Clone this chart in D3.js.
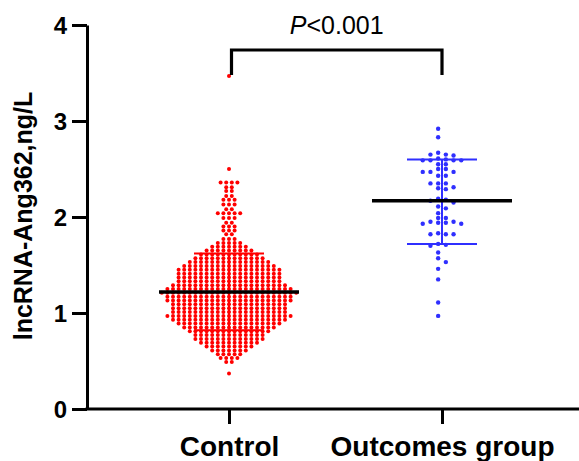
<!DOCTYPE html>
<html>
<head>
<meta charset="utf-8">
<script src="https://cdn.jsdelivr.net/npm/d3@7"></script>
<style>
  html, body { margin: 0; padding: 0; background: #fff; }
  svg { display: block; }
  text { font-family: "Liberation Sans", Arial, Helvetica, sans-serif; }
</style>
</head>
<body>
<svg id="chart" width="579" height="461"></svg>
<script>
// ---------------- data ----------------
const groups = ["Control", "Outcomes group"];
const yTicks = [0, 1, 2, 3, 4];
const yTitle = "lncRNA-Ang362,ng/L";

// Control group: dots are stacked in rows (value of row, number of dots in row)
const controlRowValues = [
  0.37, 0.49, 0.53, 0.57, 0.61, 0.65, 0.69, 0.73, 0.77, 0.81, 0.85, 0.89, 0.93, 0.97,
  1.01, 1.05, 1.09, 1.13, 1.17, 1.21, 1.25, 1.29, 1.33, 1.37, 1.41, 1.45, 1.49, 1.53,
  1.57, 1.61, 1.65, 1.69, 1.73,
  1.77, 1.82, 1.86, 1.90, 1.94, 1.99, 2.04, 2.08, 2.13, 2.18, 2.22, 2.27, 2.31, 2.36,
  2.50, 3.47
];
const controlRowCounts = [
  1, 2, 4, 5, 7, 9, 11, 13, 13, 15, 17, 19, 21, 23,
  21, 21, 21, 23, 23, 25, 23, 21, 19, 19, 19, 19, 17, 15,
  13, 11, 9, 7, 5,
  3, 2, 3, 3, 2, 3, 5, 2, 3, 3, 2, 2, 2, 4,
  1, 1
];

// Outcomes group: individual values
const outcomesValues = [
  2.92, 2.83,
  2.67, 2.65, 2.65, 2.64,
  2.61, 2.60, 2.59, 2.59, 2.59, 2.59,
  2.55, 2.55, 2.50, 2.50, 2.47, 2.47, 2.47, 2.43, 2.43,
  2.35, 2.35, 2.35, 2.31, 2.29, 2.30,
  2.19, 2.18, 2.17, 2.15, 2.11, 2.09, 2.04, 1.99, 1.99,
  1.95, 1.95, 1.94, 1.94, 1.93, 1.93,
  1.83, 1.82, 1.82, 1.82,
  1.72, 1.71, 1.70,
  1.63, 1.57, 1.53, 1.46, 1.35, 1.11, 0.97
];

// summary lines (mean and mean ± SD)
const groupMeans  = [1.22, 2.17];
const groupSdLow  = [0.82, 1.72];
const groupSdHigh = [1.62, 2.60];
const groupColors = ["#ff0000", "#2f2fff"];
const pValueText = "<0.001";

// ---------------- drawing ----------------
const svg = d3.select("#chart");
const W = 579, H = 461;
const y = d3.scaleLinear().domain([0, 4]).range([409, 25]);
const x = d3.scalePoint().domain(groups).range([229, 442]);
const axisX0 = 87;
const R = 2.0;

// Control dots (row layout, centred per row)
const redSpacing = 5.6;
const controlDots = [];
controlRowValues.forEach((v, i) => {
  const n = controlRowCounts[i];
  for (let k = 0; k < n; k++) {
    controlDots.push({ v, dx: (k - (n - 1) / 2) * redSpacing });
  }
});

// Outcomes dots (greedy column layout)
const blueSpacing = 7.7;
const candidates = [-0.5, 0.5, -1.5, 1.5, -2.5, 2.5, -3.5, 3.5, -4.5, 4.5];
const placed = [];
outcomesValues.slice().sort((a, b) => b - a).forEach(v => {
  const py = y(v);
  for (const c of candidates) {
    const clash = placed.some(p => p.c === c && Math.abs(p.py - py) < 4.4);
    if (!clash) { placed.push({ v, c, py }); break; }
  }
});

const gDots = svg.append("g");
gDots.selectAll("circle.ctrl").data(controlDots).join("circle")
  .attr("class", "ctrl")
  .attr("cx", d => x(groups[0]) + d.dx)
  .attr("cy", d => y(d.v))
  .attr("r", R)
  .attr("fill", groupColors[0]);

gDots.selectAll("circle.out").data(placed).join("circle")
  .attr("class", "out")
  .attr("cx", d => x(groups[1]) + d.c * blueSpacing)
  .attr("cy", d => y(d.v))
  .attr("r", 2.2)
  .attr("fill", groupColors[1]);

// SD bars
const gSd = svg.append("g");
groups.forEach((g, i) => {
  const cx = x(g);
  gSd.append("line").attr("x1", cx).attr("x2", cx)
    .attr("y1", y(groupSdHigh[i])).attr("y2", y(groupSdLow[i]))
    .attr("stroke", groupColors[i]).attr("stroke-width", 2);
  [groupSdHigh[i], groupSdLow[i]].forEach(v => {
    gSd.append("line").attr("x1", cx - 35).attr("x2", cx + 35)
      .attr("y1", y(v)).attr("y2", y(v))
      .attr("stroke", groupColors[i]).attr("stroke-width", 2);
  });
});

// Mean lines
svg.append("g").selectAll("line").data(groups).join("line")
  .attr("x1", d => x(d) - 70).attr("x2", d => x(d) + 70)
  .attr("y1", (d, i) => y(groupMeans[i])).attr("y2", (d, i) => y(groupMeans[i]))
  .attr("stroke", "#000").attr("stroke-width", 3.5);

// Y axis
const yAxis = d3.axisLeft(y).tickValues(yTicks).tickFormat(d3.format("d"))
  .tickSize(15).tickSizeOuter(0).tickPadding(5);
const gy = svg.append("g").attr("transform", `translate(${axisX0},0)`).call(yAxis);
gy.select(".domain").attr("stroke", "#000").attr("stroke-width", 3);
gy.selectAll(".tick line").attr("stroke", "#000").attr("stroke-width", 3);
gy.selectAll(".tick text")
  .attr("fill", "#000")
  .style("font-size", "24px").style("font-weight", "bold")
  .attr("dy", "0.36em");

// X axis
svg.append("line").attr("x1", axisX0 - 1.5).attr("x2", W)
  .attr("y1", y(0)).attr("y2", y(0))
  .attr("stroke", "#000").attr("stroke-width", 3);
const xAxis = d3.axisBottom(x).tickSize(15).tickSizeOuter(0).tickPadding(12);
const gx = svg.append("g").attr("transform", `translate(0,${y(0)})`).call(xAxis);
gx.select(".domain").remove();
gx.selectAll(".tick line").attr("stroke", "#000").attr("stroke-width", 3);
gx.selectAll(".tick text")
  .attr("fill", "#000")
  .style("font-size", "28px").style("font-weight", "bold");

// Y title
svg.append("text")
  .attr("transform", "rotate(-90)")
  .attr("x", -216).attr("y", 32)
  .attr("text-anchor", "middle")
  .style("font-size", "25px").style("font-weight", "bold")
  .text(yTitle);

// Significance bracket
const bx1 = x(groups[0]) + 2.5, bx2 = x(groups[1]);
svg.append("path")
  .attr("d", `M${bx1},75 V50 H${bx2} V75`)
  .attr("fill", "none").attr("stroke", "#000").attr("stroke-width", 3.2);
const pt = svg.append("text")
  .attr("x", (bx1 + bx2) / 2).attr("y", 34)
  .attr("text-anchor", "middle")
  .style("font-size", "25px");
pt.append("tspan").style("font-style", "italic").text("P");
pt.append("tspan").text(pValueText);
</script>
</body>
</html>
